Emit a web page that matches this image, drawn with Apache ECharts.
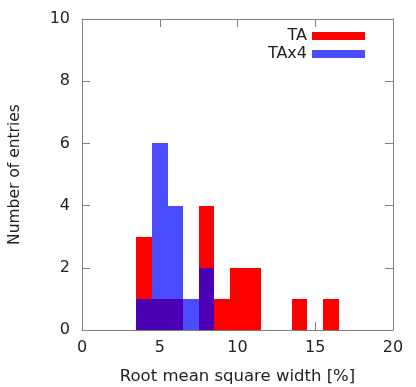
<!DOCTYPE html>
<html>
<head>
<meta charset="utf-8">
<script src="https://cdn.jsdelivr.net/npm/echarts@6/dist/echarts.min.js"></script>
<style>
  html, body { margin: 0; padding: 0; background: #fff; }
  #chart { width: 416px; height: 387px; }
</style>
</head>
<body>
<div id="chart"></div>
<script>
// histogram bins (centre of each 1-unit bin) and entry counts
const binCenters = [4, 5, 6, 7, 8, 9, 10, 11, 14, 16];
const taCounts   = [3, 1, 1, 0, 4, 1, 2, 2, 1, 1];
const tax4Counts = [1, 6, 4, 1, 2, 0, 0, 0, 0, 0];
const binWidth = 1;

const xTicks = { min: 0, max: 20, interval: 5 };
const yTicks = { min: 0, max: 10, interval: 2 };

const font = 'DejaVu Sans';
const frameColor = '#808080';

const chart = echarts.init(document.getElementById('chart'));

const toData = counts => binCenters.map((c, i) => [c, counts[i]]);

const histItem = color => (params, api) => {
  const x = api.value(0);
  const y = api.value(1);
  if (!y) return null;
  const p0 = api.coord([x - binWidth / 2, 0]);
  const p1 = api.coord([x + binWidth / 2, y]);
  const x0 = Math.round(p0[0]), x1 = Math.round(p1[0]);
  const y0 = Math.round(p0[1]), y1 = Math.round(p1[1]);
  return {
    type: 'rect',
    shape: { x: x0, y: y1, width: x1 - x0, height: y0 - y1 },
    style: { fill: color }
  };
};

const axisBase = {
  axisLine: { show: true, onZero: false, lineStyle: { color: frameColor, width: 1 } },
  axisTick: { show: true, inside: true, length: 8, lineStyle: { color: frameColor } },
  splitLine: { show: false }
};

const option = {
  animation: false,
  textStyle: { fontFamily: font },
  grid: { left: 82, right: 23, top: 19, bottom: 57, containLabel: false, outerBoundsMode: 'none' },
  legend: {
    orient: 'vertical',
    right: 46,
    top: 23,
    align: 'right',
    icon: 'rect',
    itemWidth: 53,
    itemHeight: 8,
    itemGap: 2,
    textStyle: { fontSize: 16, color: '#222', fontFamily: font },
    data: ['TA', 'TAx4']
  },
  xAxis: [
    Object.assign({}, axisBase, {
      type: 'value', position: 'bottom', ...xTicks,
      name: 'Root mean square width [%]',
      nameLocation: 'middle', nameGap: 38,
      nameTextStyle: { fontSize: 16.5, color: '#222' },
      axisLabel: { fontSize: 16, color: '#222', margin: 10 }
    }),
    Object.assign({}, axisBase, {
      type: 'value', position: 'top', ...xTicks,
      axisLabel: { show: false }
    })
  ],
  yAxis: [
    Object.assign({}, axisBase, {
      type: 'value', position: 'left', ...yTicks,
      name: 'Number of entries',
      nameLocation: 'middle', nameGap: 59,
      nameTextStyle: { fontSize: 15.5, color: '#222' },
      axisLabel: { fontSize: 16, color: '#222', margin: 12 }
    }),
    Object.assign({}, axisBase, {
      type: 'value', position: 'right', ...yTicks,
      axisLabel: { show: false }
    })
  ],
  series: [
    {
      name: 'TA',
      type: 'custom',
      renderItem: histItem('#ff0000'),
      itemStyle: { color: '#ff0000' },
      encode: { x: 0, y: 1 },
      data: toData(taCounts),
      z: 2
    },
    {
      name: 'TAx4',
      type: 'custom',
      renderItem: histItem('rgba(0,0,255,0.7)'),
      itemStyle: { color: 'rgba(0,0,255,0.7)' },
      encode: { x: 0, y: 1 },
      data: toData(tax4Counts),
      z: 3
    }
  ]
};

chart.setOption(option);
</script>
</body>
</html>
